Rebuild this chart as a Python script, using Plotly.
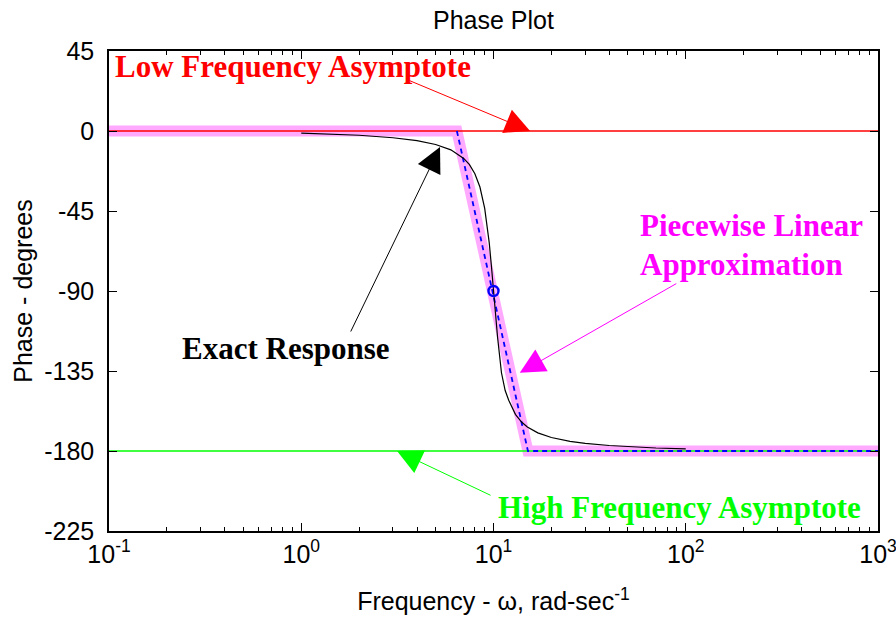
import math
import plotly.graph_objects as go

# Exact phase response of the lightly damped second-order system (rad/s, degrees)
exact_freq = [1, 2, 3, 4, 5, 6, 7, 7.5, 8, 8.5, 9, 9.25, 9.5, 9.75, 10,
              10.25, 10.5, 11, 11.5, 12, 13, 14, 15, 17, 20, 25, 30, 40, 50, 70, 100]
exact_phase = [-1.2, -2.4, -3.8, -5.4, -7.6, -10.6, -15.4, -18.9, -24.0, -31.5, -43.5,
               -52.0, -62.8, -75.8, -90.0, -103.9, -116.0, -136.0, -146.0, -151.4,
               -159.4, -163.7, -166.5, -169.8, -172.4, -174.6, -175.7, -176.9,
               -177.6, -178.3, -178.8]

# Piecewise linear (straight-line) approximation
approx_freq = [0.1, 6.45, 15.1, 1000]
approx_phase = [0, 0, -180, -180]
dashed_freq = [6.45, 15.1, 1000]
dashed_phase = [0, -180, -180]

# Asymptotes
asym_freq = [0.1, 1000]
low_asym = [0, 0]
high_asym = [-180, -180]

# Phase at the natural frequency
wn_freq = [10]
wn_phase = [-90]

y_ticks = [45, 0, -45, -90, -135, -180, -225]
y_tick_text = ["45", "0", "-45", "-90", "-135", "-180", "-225"]
x_ticks = [0.1, 1, 10, 100, 1000]
x_tick_text = ["10<sup>-1</sup>", "10<sup>0</sup>", "10<sup>1</sup>",
               "10<sup>2</sup>", "10<sup>3</sup>"]

SANS = "Liberation Sans, Arial, sans-serif"
SERIF = "Liberation Serif, Times New Roman, serif"

fig = go.Figure()
fig.add_trace(go.Scatter(x=approx_freq, y=approx_phase, mode="lines",
                         line=dict(color="#ffaaff", width=11)))
fig.add_trace(go.Scatter(x=asym_freq, y=low_asym, mode="lines",
                         line=dict(color="#ff0000", width=1.3)))
fig.add_trace(go.Scatter(x=asym_freq, y=high_asym, mode="lines",
                         line=dict(color="#00ff00", width=1.5)))
fig.add_trace(go.Scatter(x=dashed_freq, y=dashed_phase, mode="lines",
                         line=dict(color="#0000ff", width=1.8, dash="5px,4px")))
fig.add_trace(go.Scatter(x=exact_freq, y=exact_phase, mode="lines",
                         line=dict(color="#000000", width=1.2)))
fig.add_trace(go.Scatter(x=wn_freq, y=wn_phase, mode="markers",
                         marker=dict(symbol="circle-open", size=10, color="#0000ff",
                                     line=dict(width=2.4, color="#0000ff"))))

# plot area in pixels: x 109..878, y 51..531
L, R, T, B = 109, 878, 51, 531
def px(x):
    return (x - L) / (R - L)
def py(y):
    return (B - y) / (B - T)

labels = [
    ("Low Frequency Asymptote", 113, 66, "#ff0000"),
    ("Exact Response", 180, 348, "#000000"),
    ("Piecewise Linear", 638, 225, "#ff00ff"),
    ("Approximation", 638, 264, "#ff00ff"),
    ("High Frequency Asymptote", 496, 507, "#00ff00"),
]
annotations = []
for text, x, y, color in labels:
    annotations.append(dict(text="<b>%s</b>" % text, xref="paper", yref="paper",
                            x=px(x), y=py(y), xanchor="left", yanchor="middle",
                            showarrow=False,
                            font=dict(family=SERIF, size=31, color=color)))

arrows = [
    (15.5, 0, -122, -51, "#ff0000"),
    (5.27, -9, -90, 186, "#000000"),
    (13.7, -136, 158, -90, "#ff00ff"),
    (3.15, -180, 95, 45, "#00ff00"),
]
for w, ph, ax, ay, color in arrows:
    annotations.append(dict(text="", x=math.log10(w), y=ph, xref="x", yref="y",
                            ax=ax, ay=ay, showarrow=True, arrowhead=2,
                            arrowsize=5, arrowwidth=1, arrowcolor=color,
                            standoff=0))

fig.update_layout(
    width=896, height=624,
    margin=dict(l=L, r=896 - R, t=T, b=624 - B, pad=0),
    paper_bgcolor="white", plot_bgcolor="white",
    showlegend=False,
    font=dict(family=SANS, size=25, color="black"),
    title=dict(text="Phase Plot", x=0.5, xref="paper", xanchor="center",
               y=1 - 20 / 624, yref="container", yanchor="middle",
               font=dict(family=SANS, size=25, color="black")),
    annotations=annotations,
)
fig.update_xaxes(
    type="log", range=[-1, 3], showgrid=False, zeroline=False, automargin=False,
    showline=True, linecolor="black", linewidth=1.5, mirror="allticks",
    ticks="inside", ticklen=8, tickwidth=1, tickcolor="black",
    tickvals=x_ticks, ticktext=x_tick_text, ticklabeloverflow="allow",
    tickfont=dict(family=SANS, size=25),
    minor=dict(ticks="inside", ticklen=4, tickwidth=1, tickcolor="black",
               dtick="D1", showgrid=False),
    title=dict(text="Frequency - \u03c9, rad-sec<sup>-1</sup>",
               font=dict(family=SANS, size=25), standoff=26),
)
fig.update_yaxes(
    range=[-225, 45], showgrid=False, zeroline=False, automargin=False,
    showline=True, linecolor="black", linewidth=1.5, mirror="allticks",
    ticks="inside", ticklen=8, tickwidth=1, tickcolor="black",
    tickvals=y_ticks, ticktext=y_tick_text, ticklabelstandoff=8,
    tickfont=dict(family=SANS, size=25),
    title=dict(text="Phase - degrees", font=dict(family=SANS, size=25), standoff=4),
)

fig.write_html("out.html")
